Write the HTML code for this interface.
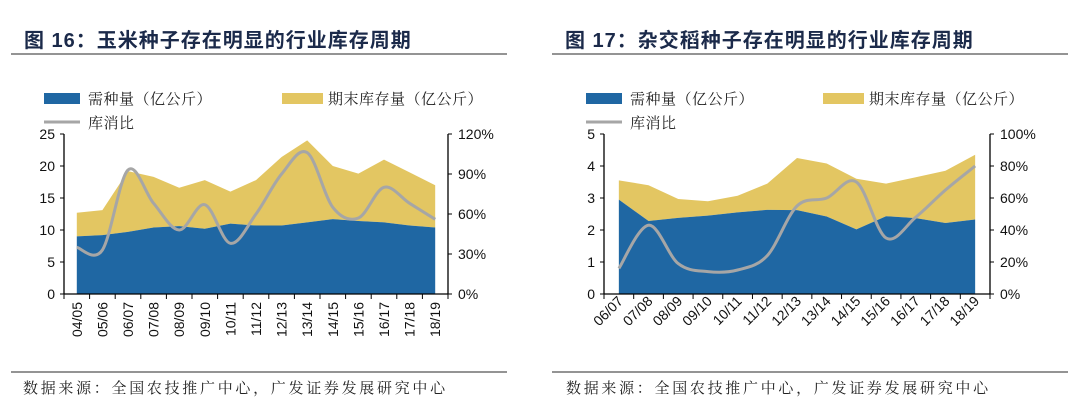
<!DOCTYPE html>
<html><head><meta charset="utf-8">
<style>
body{margin:0;background:#fff;width:1080px;height:418px;overflow:hidden;font-family:"Liberation Sans","Noto Sans CJK SC",sans-serif;}
svg{display:block}
.title{font-size:20px;font-weight:bold;fill:#1b2a4a;letter-spacing:1px;font-family:"Liberation Sans","Noto Sans CJK SC",sans-serif}
.src{font-size:15px;fill:#222;letter-spacing:2.7px;font-family:"Liberation Serif","Noto Serif CJK SC",serif}
.leg{font-size:15px;fill:#222;letter-spacing:0.5px;font-family:"Liberation Serif","Noto Serif CJK SC",serif}
.tick{font-size:14px;fill:#111;font-family:"Liberation Sans",sans-serif}
</style></head><body>
<svg id="root" width="1080" height="418">
<g>
<text class="title" x="24" y="47">图 16：玉米种子存在明显的行业库存周期</text>
<line x1="11" y1="54" x2="507" y2="54" stroke="#555" stroke-width="1.2"/>
<line x1="11" y1="372" x2="507" y2="372" stroke="#555" stroke-width="1.2"/>
<text class="src" x="23" y="393">数据来源：全国农技推广中心，广发证券发展研究中心</text>
<g id="c1"></g>
</g>
<g>
<text class="title" x="565" y="47">图 17：杂交稻种子存在明显的行业库存周期</text>
<line x1="552" y1="54" x2="1068" y2="54" stroke="#555" stroke-width="1.2"/>
<line x1="552" y1="372" x2="1068" y2="372" stroke="#555" stroke-width="1.2"/>
<text class="src" x="566" y="393">数据来源：全国农技推广中心，广发证券发展研究中心</text>
<g id="c2"></g>
</g>
</svg>
<script>
// Chart 16 data
const cats16 = ["04/05","05/06","06/07","07/08","08/09","09/10","10/11","11/12","12/13","13/14","14/15","15/16","16/17","17/18","18/19"];
const demand16 = [9.0,9.2,9.7,10.4,10.6,10.2,11.0,10.7,10.7,11.2,11.7,11.4,11.2,10.7,10.4];
const stock16 = [3.7,3.9,9.5,7.9,6.0,7.6,5.0,7.1,10.7,12.8,8.3,7.4,9.8,8.3,6.6];
const ratio16 = [35,33,93,68,48,67,38,60,90,106,65,57,80,68,56];
const leftTicks16 = [0,5,10,15,20,25];
const rightTicks16 = [0,30,60,90,120];
// Chart 17 data
const cats17 = ["06/07","07/08","08/09","09/10","10/11","11/12","12/13","13/14","14/15","15/16","16/17","17/18","18/19"];
const demand17 = [2.95,2.28,2.38,2.45,2.55,2.63,2.62,2.42,2.02,2.43,2.37,2.22,2.33];
const stock17 = [0.60,1.12,0.59,0.45,0.52,0.82,1.63,1.66,1.58,1.02,1.28,1.63,2.02];
const ratio17 = [16,43,19,14,15,24,55,60,70,35,48,65,80];
const leftTicks17 = [0,1,2,3,4,5];
const rightTicks17 = [0,20,40,60,80,100];

const NS="http://www.w3.org/2000/svg";
function mk(p,t,a){const e=document.createElementNS(NS,t);for(const k in a)e.setAttribute(k,a[k]);p.appendChild(e);return e;}
function spline(pts){let d="M"+pts[0][0]+","+pts[0][1];for(let i=0;i<pts.length-1;i++){const p0=pts[i-1]||pts[i],p1=pts[i],p2=pts[i+1],p3=pts[i+2]||p2;const t=6;d+=" C"+(p1[0]+(p2[0]-p0[0])/t)+","+(p1[1]+(p2[1]-p0[1])/t)+" "+(p2[0]-(p3[0]-p1[0])/t)+","+(p2[1]-(p3[1]-p1[1])/t)+" "+p2[0]+","+p2[1];}return d;}
function draw(g,o){
  const {cats,dem,stk,rat,lt,rt,x0,x1,y0,y1,rot,lx,sx}=o;
  const lmax=lt[lt.length-1],rmax=rt[rt.length-1];
  const n=cats.length,bw=(x1-x0)/n;
  const X=i=>x0+bw*(i+0.5),Y=v=>y0-(y0-y1)*v/lmax,YR=v=>y0-(y0-y1)*v/rmax;
  let e=mk(g,"rect",{x:lx,y:93,width:36,height:11,fill:"#1f67a3"});
  
  e=mk(g,"text",{x:lx+44,y:104,class:"leg"});e.textContent="需种量（亿公斤）";
  
  e=mk(g,"rect",{x:sx,y:93,width:41,height:11,fill:"#e3c662"});
  
  e=mk(g,"text",{x:sx+46,y:104,class:"leg"});e.textContent="期末库存量（亿公斤）";
  
  e=mk(g,"line",{x1:lx,y1:122,x2:lx+36,y2:122,stroke:"#a6a6a6","stroke-width":3});
  
  e=mk(g,"text",{x:lx+44,y:128,class:"leg"});e.textContent="库消比";
  
  let top="",bot="";
  for(let i=0;i<n;i++){top+=(i?"L":"M")+X(i)+","+Y(dem[i]+stk[i]);}
  for(let i=n-1;i>=0;i--){top+="L"+X(i)+","+Y(dem[i]);}
  e=mk(g,"path",{d:top+"Z",fill:"#e3c662"});
  
  for(let i=0;i<n;i++){bot+=(i?"L":"M")+X(i)+","+Y(dem[i]);}
  bot+="L"+X(n-1)+","+y0+"L"+X(0)+","+y0+"Z";
  e=mk(g,"path",{d:bot,fill:"#1f67a3"});
  
  e=mk(g,"path",{d:spline(rat.map((v,i)=>[X(i),YR(v)])),fill:"none",stroke:"#a6a6a6","stroke-width":3});
  
  e=mk(g,"line",{x1:x0,y1:y1,x2:x0,y2:y0,stroke:"#000","stroke-width":1.3});
  
  e=mk(g,"line",{x1:x1,y1:y1,x2:x1,y2:y0,stroke:"#000","stroke-width":1.3});
  
  e=mk(g,"line",{x1:x0,y1:y0,x2:x1,y2:y0,stroke:"#000","stroke-width":1.3});
  
  lt.forEach(v=>{mk(g,"line",{x1:x0-4,y1:Y(v),x2:x0,y2:Y(v),stroke:"#000"});
    const t=mk(g,"text",{x:x0-9,y:Y(v)+5,class:"tick","text-anchor":"end"});t.textContent=v;
    });
  rt.forEach(v=>{mk(g,"line",{x1:x1,y1:YR(v),x2:x1+4,y2:YR(v),stroke:"#000"});
    const t=mk(g,"text",{x:x1+10,y:YR(v)+5,class:"tick"});t.textContent=v+"%";
    });
  for(let i=0;i<=n;i++)mk(g,"line",{x1:x0+bw*i,y1:y0,x2:x0+bw*i,y2:y0+5,stroke:"#000"});
  cats.forEach((c,i)=>{const x=X(i)+5,y=y0+8;
    const t=mk(g,"text",{x:x,y:y,class:"tick","text-anchor":"end",transform:"rotate("+rot+" "+x+" "+y+")"});t.textContent=c;
    });
}
draw(document.getElementById("c1"),{cats:cats16,dem:demand16,stk:stock16,rat:ratio16,lt:leftTicks16,rt:rightTicks16,x0:64,x1:448,y0:294,y1:134,rot:-90,lx:44,sx:282});
draw(document.getElementById("c2"),{cats:cats17,dem:demand17,stk:stock17,rat:ratio17,lt:leftTicks17,rt:rightTicks17,x0:604,x1:990,y0:294,y1:134,rot:-45,lx:586,sx:823});
</script>
</body></html>
